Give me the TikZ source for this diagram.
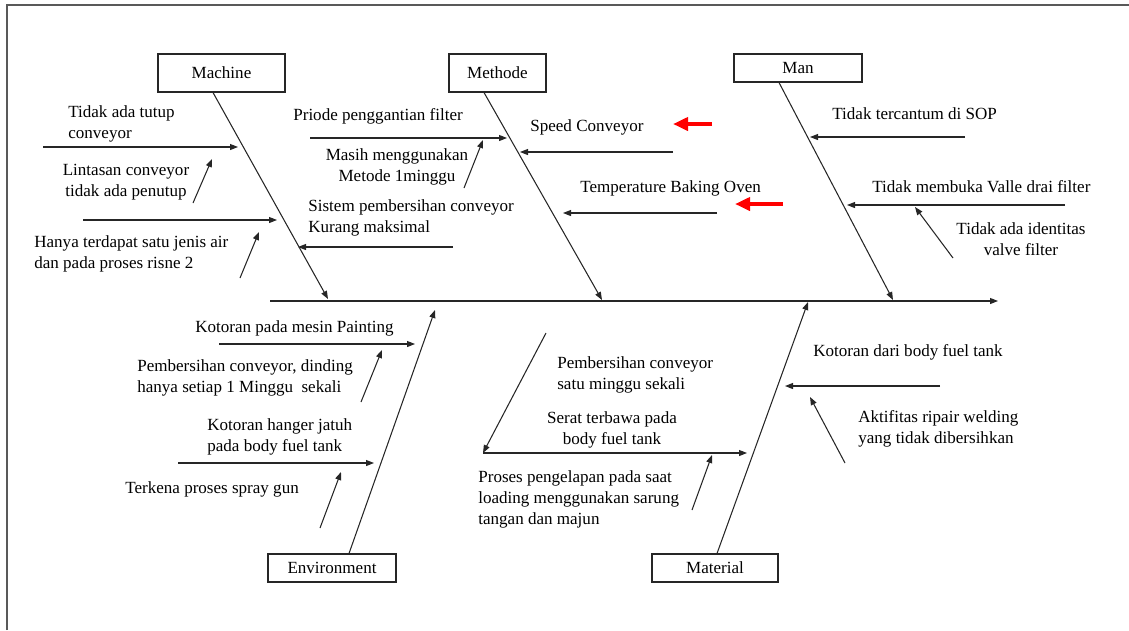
\documentclass[tikz,border=0pt]{standalone}
\usepackage{fontspec}
\setmainfont{Liberation Serif}
\usetikzlibrary{arrows.meta,calc}

\begin{document}
\begin{tikzpicture}[x=0.02cm, y=-0.02cm,
    catbox/.style={draw=black!85, line width=0.6pt, inner sep=0pt, font=\fontsize{9.7}{11.7}\selectfont},
    cause/.style={inner sep=0pt, anchor=base west, align=left, font=\fontsize{9.7}{11.7}\selectfont},
    causec/.style={cause, anchor=base, align=center},
    bone/.style={draw=black!85, line width=0.6pt},
    sub/.style={bone, -{Triangle[length=1.6mm,width=1.2mm]}},
    hilite/.style={draw=red, line width=2.3pt, -{Triangle[length=3mm,width=2.6mm]}}
]
\useasboundingbox (0,0) rectangle (1129,630);
\draw[black!65, line width=1.1pt] (7,630) -- (7,5) -- (1129,5);

\node[catbox, minimum width=2.54cm, minimum height=0.76cm] (mach) at (221.5,73) {Machine};
\node[catbox, minimum width=1.94cm, minimum height=0.76cm] (meth) at (497.5,73) {Methode};
\node[catbox, minimum width=2.56cm, minimum height=0.56cm] (man) at (798,68) {Man};
\node[catbox, minimum width=2.56cm, minimum height=0.56cm] (env) at (332,568) {Environment};
\node[catbox, minimum width=2.52cm, minimum height=0.56cm] (mat) at (715,568) {Material};

\coordinate (tail) at (270,301);
\coordinate (head) at (998,301);
\coordinate (machend) at (328,299);
\coordinate (methend) at (602,300);
\coordinate (manend) at (893,300);
\coordinate (envend) at (435,310);
\coordinate (matend) at (808,302);

\draw[sub] (tail) -- (head);
\draw[sub] ($(mach.south)+(-8.5,0)$) -- (machend);
\draw[sub] ($(meth.south)+(-13.5,0)$) -- (methend);
\draw[sub] ($(man.south)+(-19,0)$) -- (manend);
\draw[sub] ($(env.north)+(17,0)$) -- (envend);
\draw[sub] ($(mat.north)+(2,0)$) -- (matend);

\node[cause] (m1) at (68,138) {Tidak ada tutup\\conveyor};
\node[causec] (m2) at (126,196) {Lintasan conveyor\\tidak ada penutup};
\node[cause] (m3) at (34,268) {Hanya terdapat satu jenis air\\dan pada proses risne 2};
\node[cause] (m5) at (308,232) {Sistem pembersihan conveyor\\Kurang maksimal};
\coordinate (m1a) at (43,147);  \coordinate (m1b) at (238,147);
\coordinate (m2a) at (193,203); \coordinate (m2b) at (212,159);
\coordinate (m3a) at (83,220);  \coordinate (m3b) at (277,220);
\coordinate (m4a) at (240,278); \coordinate (m4b) at (259,232);
\coordinate (m5a) at (453,247); \coordinate (m5b) at (298,247);
\draw[sub] (m1a) -- (m1b);
\draw[sub] (m2a) -- (m2b);
\draw[sub] (m3a) -- (m3b);
\draw[sub] (m4a) -- (m4b);
\draw[sub] (m5a) -- (m5b);

\node[cause] (d1) at (293,120) {Priode penggantian filter};
\node[causec] (d2) at (397,181) {Masih menggunakan\\Metode 1minggu};
\node[cause] (d3) at (530,131) {Speed Conveyor};
\node[cause] (d4) at (580,192) {Temperature Baking Oven};
\coordinate (d1a) at (310,138); \coordinate (d1b) at (507,138);
\coordinate (d2a) at (464,188); \coordinate (d2b) at (483,140);
\coordinate (d3a) at (673,152); \coordinate (d3b) at (520,152);
\coordinate (d4a) at (717,213); \coordinate (d4b) at (563,213);
\draw[sub] (d1a) -- (d1b);
\draw[sub] (d2a) -- (d2b);
\draw[sub] (d3a) -- (d3b);
\draw[sub] (d4a) -- (d4b);
\coordinate (r1a) at (712,124); \coordinate (r1b) at (673,124);
\coordinate (r2a) at (783,204); \coordinate (r2b) at (735,204);
\draw[hilite] (r1a) -- (r1b);
\draw[hilite] (r2a) -- (r2b);

\node[cause] (p1) at (832,119) {Tidak tercantum di SOP};
\node[cause] (p2) at (872,192) {Tidak membuka Valle drai filter};
\node[causec] (p3) at (1021,255) {Tidak ada identitas\\valve filter};
\coordinate (p1a) at (965,137);  \coordinate (p1b) at (810,137);
\coordinate (p2a) at (1065,205); \coordinate (p2b) at (847,205);
\coordinate (p3a) at (953,258);  \coordinate (p3b) at (915,207);
\draw[sub] (p1a) -- (p1b);
\draw[sub] (p2a) -- (p2b);
\draw[sub] (p3a) -- (p3b);

\node[cause] (e1) at (195,332) {Kotoran pada mesin Painting};
\node[cause] (e2) at (137,392) {Pembersihan conveyor, dinding\\hanya setiap 1 Minggu\ \ sekali};
\node[cause] (e3) at (207,451) {Kotoran hanger jatuh\\pada body fuel tank};
\node[cause] (e4) at (125,493) {Terkena proses spray gun};
\coordinate (e1a) at (219,344); \coordinate (e1b) at (415,344);
\coordinate (e2a) at (361,402); \coordinate (e2b) at (382,350);
\coordinate (e3a) at (178,463); \coordinate (e3b) at (374,463);
\coordinate (e4a) at (320,528); \coordinate (e4b) at (341,472);
\draw[sub] (e1a) -- (e1b);
\draw[sub] (e2a) -- (e2b);
\draw[sub] (e3a) -- (e3b);
\draw[sub] (e4a) -- (e4b);

\node[cause] (t1) at (557,389) {Pembersihan conveyor\\satu minggu sekali};
\node[causec] (t2) at (612,444) {Serat terbawa pada\\body fuel tank};
\node[cause] (t3) at (478,524) {Proses pengelapan pada saat\\loading menggunakan sarung\\tangan dan majun};
\node[cause] (t4) at (813,356) {Kotoran dari body fuel tank};
\node[cause] (t5) at (858,443) {Aktifitas ripair welding\\yang tidak dibersihkan};
\coordinate (t1a) at (546,333); \coordinate (t1b) at (483,453);
\coordinate (t2b) at (747,453);
\coordinate (t3a) at (692,510); \coordinate (t3b) at (712,455);
\coordinate (t4a) at (940,386); \coordinate (t4b) at (785,386);
\coordinate (t5a) at (845,463); \coordinate (t5b) at (810,397);
\draw[sub] (t1a) -- (t1b);
\draw[sub] (t1b) -- (t2b);
\draw[sub] (t3a) -- (t3b);
\draw[sub] (t4a) -- (t4b);
\draw[sub] (t5a) -- (t5b);
\end{tikzpicture}
\end{document}
